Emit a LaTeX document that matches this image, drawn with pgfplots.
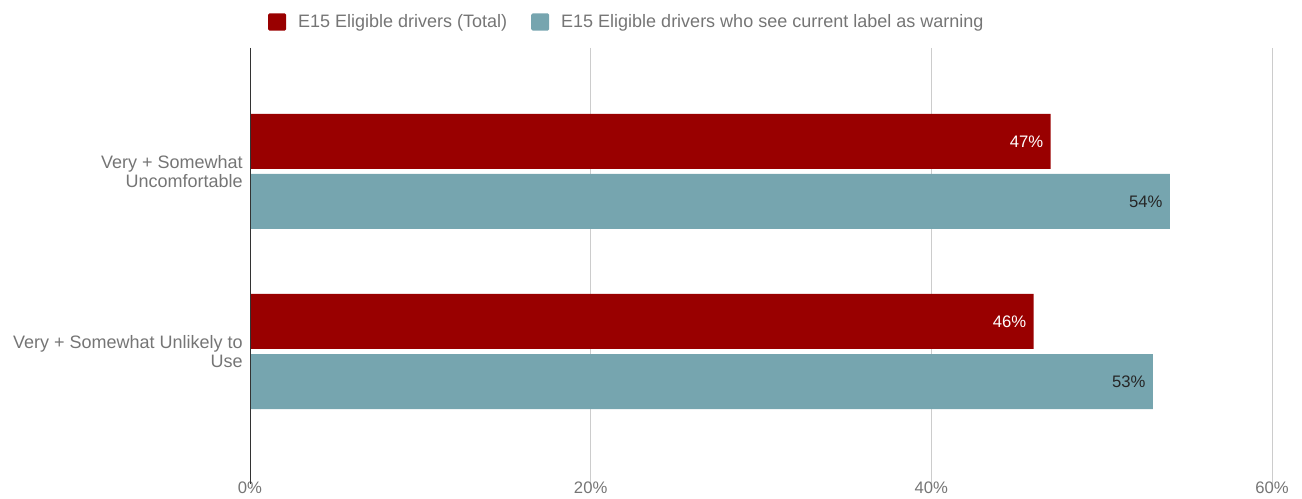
\documentclass[border=0pt]{standalone}
\usepackage{pgfplots}
\pgfplotsset{compat=1.18}
\usepackage{fontspec}
\setmainfont{Liberation Sans}
\definecolor{cred}{HTML}{990000}
\definecolor{cteal}{HTML}{76A5AF}
\definecolor{tgray}{HTML}{757575}
\definecolor{ggray}{HTML}{CCCCCC}
\begin{document}
\begin{tikzpicture}
\useasboundingbox (0pt,0pt) rectangle (976.5pt,374.25pt);
\begin{axis}[
  at={(187.5pt,11.25pt)}, anchor=south west,
  scale only axis, width=766.5pt, height=327pt,
  xmin=0, xmax=60, ymin=-0.686, ymax=1.736, y dir=reverse,
  xtick={0,20,40,60}, ytick={0,1},
  yticklabels={{Very + Somewhat\\Uncomfortable},{Very + Somewhat Unlikely to\\Use}},
  yticklabel style={align=right, text=tgray, font=\fontsize{13.5}{14}\selectfont, xshift=-2pt},
  xticklabel={\pgfmathprintnumber{\tick}\%},
  /pgf/number format/assume math mode=true,
  xticklabel style={text=tgray, font=\fontsize{12.5}{14}\selectfont, yshift=3pt, inner sep=1pt},
  major tick length=0pt,
  xmajorgrids, grid style={ggray, line width=0.75pt},
  axis line style={draw=none},
  xbar, bar width=41.25pt, bar shift=0pt,
  clip=false,
  point meta=x,
  nodes near coords={\pgfmathprintnumber{\pgfplotspointmeta}\%},
  nodes near coords style={anchor=east, xshift=-2pt, font=\fontsize{12.5}{14}\selectfont},
  legend columns=2,
  legend style={at={(0.369,1.0596)}, anchor=center, draw=none, fill=none,
    font=\fontsize{13.5}{15}\selectfont, text=tgray,
    /tikz/every even column/.append style={column sep=16pt}},
  legend image code/.code={\fill[#1, rounded corners=1pt] (0pt,-6.4pt) rectangle (13.5pt,6.4pt); \path (20.5pt,0pt);},
]
\addplot[fill=cred, draw=none, nodes near coords style={text=white}] coordinates {(47,-0.1667) (46,0.8333)};
\addlegendentry{E15 Eligible drivers (Total)}
\addplot[fill=cteal, draw=none, nodes near coords style={text=black!85}] coordinates {(54,0.1667) (53,1.1667)};
\addlegendentry{E15 Eligible drivers who see current label as warning}
\draw[black!80, line width=0.75pt] (axis cs:0,-0.686) -- (axis cs:0,1.736);
\end{axis}
\end{tikzpicture}
\end{document}
